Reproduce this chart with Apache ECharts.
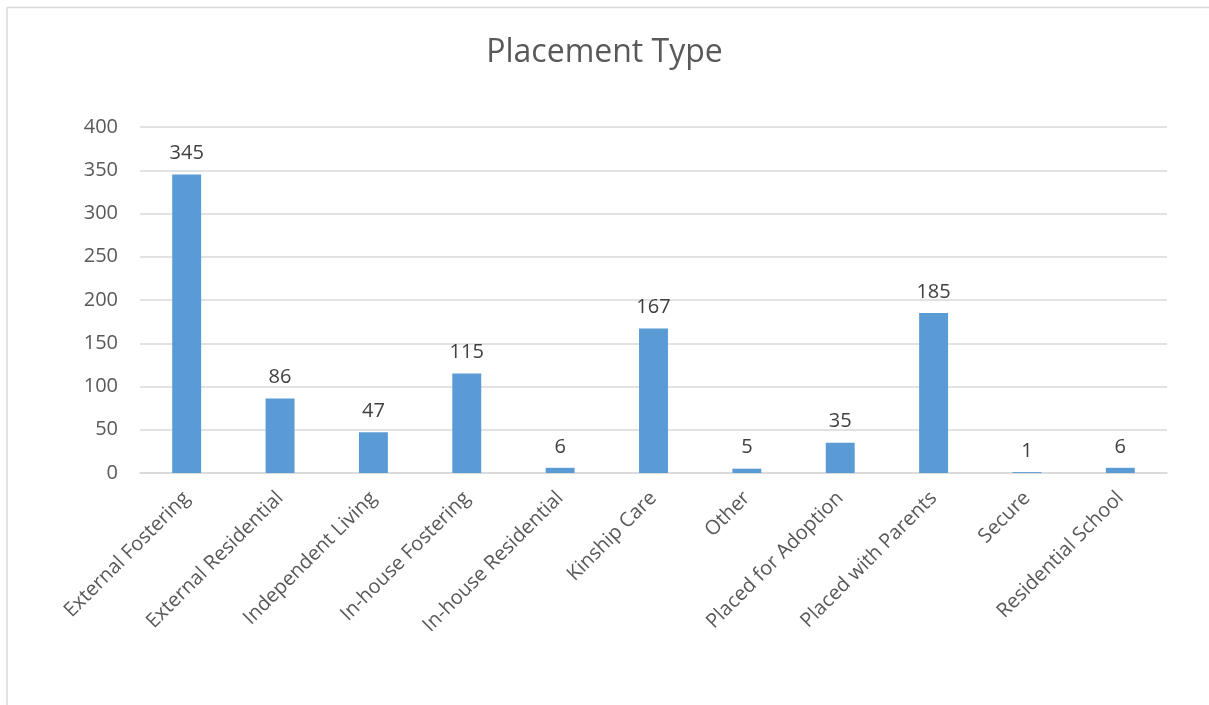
<!DOCTYPE html>
<html><head><meta charset="utf-8">
<script src="https://cdn.jsdelivr.net/npm/echarts@6/dist/echarts.min.js"></script>
<style>html,body{margin:0;padding:0;background:#fff;}#c{width:1209px;height:705px;}</style>
</head><body><div id="c"></div>
<script>
const categories = ["External Fostering","External Residential","Independent Living","In-house Fostering","In-house Residential","Kinship Care","Other","Placed for Adoption","Placed with Parents","Secure","Residential School"];
const values = [345,86,47,115,6,167,5,35,185,1,6];
const yTicks = [0,50,100,150,200,250,300,350,400];
const FONT = "'Open Sans', 'Noto Sans', sans-serif";
const chart = echarts.init(document.getElementById('c'));
chart.setOption({
  animation:false,
  graphic:[{type:'rect',shape:{x:7,y:7.5,width:1230,height:730},style:{fill:null,stroke:'#d9d9d9',lineWidth:1.5},silent:true}],
  title:{text:'Placement Type',left:'center',top:32,textStyle:{fontFamily:FONT,fontSize:32,fontWeight:'normal',color:'#595959'}},
  grid:{left:140,right:42,top:127,bottom:232,containLabel:false},
  xAxis:{type:'category',data:categories,
    axisLine:{show:true,lineStyle:{color:'#d9d9d9',width:1.5}},axisTick:{show:false},
    axisLabel:{rotate:45,interval:0,margin:22,fontFamily:FONT,fontSize:20,color:'#595959'}},
  yAxis:{type:'value',min:yTicks[0],max:yTicks[yTicks.length-1],interval:50,
    axisLine:{show:false},axisTick:{show:false},
    splitLine:{lineStyle:{color:'#d9d9d9',width:1.5}},
    axisLabel:{margin:22,fontFamily:FONT,fontSize:20,color:'#595959'}},
  series:[{type:'bar',data:values,barWidth:'31%',itemStyle:{color:'#5B9BD5'},
    label:{show:true,position:'top',distance:11,fontFamily:FONT,fontSize:20,color:'#404040'}}]
});
</script></body></html>
